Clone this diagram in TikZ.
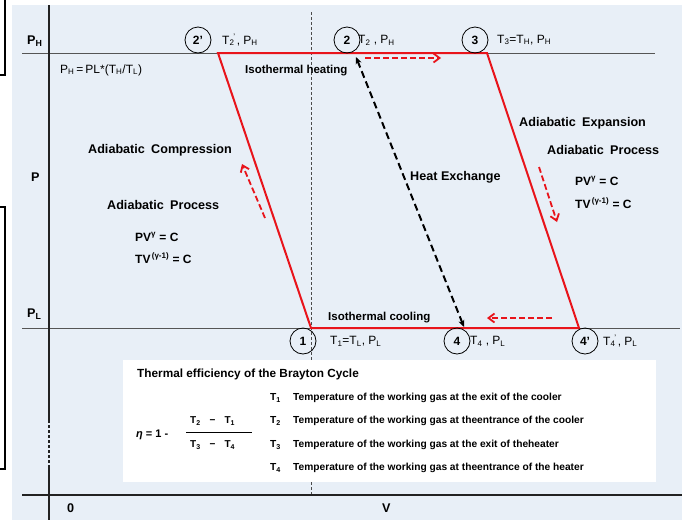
\documentclass[tikz,border=0pt]{standalone}
\usepackage{fontspec}
\setmainfont{Liberation Sans}
\usetikzlibrary{arrows.meta}
\definecolor{bgblue}{HTML}{E8EFF7}
\definecolor{cycred}{HTML}{E8141B}
\definecolor{axgray}{HTML}{555555}
\definecolor{axdark}{HTML}{222222}
\begin{document}
\begin{tikzpicture}[x=1pt,y=-1pt,
  lbl/.style={font=\fontsize{12.6}{14}\selectfont\bfseries, inner sep=0pt, anchor=west},
  lblr/.style={font=\fontsize{12}{14}\selectfont, inner sep=0pt, anchor=west},
  iso/.style={font=\fontsize{11.5}{13}\selectfont\bfseries, inner sep=0pt, anchor=west},
  eqn/.style={font=\fontsize{12}{14}\selectfont\bfseries, inner sep=0pt, anchor=west},
  circ/.style={draw=black, line width=0.8pt, circle, minimum size=26pt, inner sep=0pt, font=\fontsize{12}{14}\selectfont\bfseries},
  boxtitle/.style={font=\fontsize{11.8}{13}\selectfont\bfseries, inner sep=0pt, anchor=west},
  boxtxt/.style={font=\fontsize{10.2}{12}\selectfont\bfseries, inner sep=0pt, anchor=west},
  refline/.style={draw=axgray, line width=1pt},
  cycline/.style={draw=cycred, line width=2pt, line join=miter},
  redarrow/.style={draw=cycred, line width=1.8pt, dash pattern=on 6pt off 3pt, -{Straight Barb[length=6pt,width=9pt]}},
  blkarrow/.style={draw=black, line width=2pt, dash pattern=on 7pt off 4pt, {Stealth[length=7pt,width=6pt]}-{Stealth[length=7pt,width=6pt]}},
  vdash/.style={draw=black!70, line width=0.6pt, dash pattern=on 3pt off 2pt},
]
\useasboundingbox (0,0) rectangle (685,520);
% background
\fill[bgblue] (12,5) rectangle (682,520);
% left bracket marks
\draw[line width=1.5pt] (0,75) -- (5,75) -- (5,0);
\draw[line width=1.5pt] (0,207) -- (5,207) -- (5,469) -- (0,469);
% reference pressure lines
\coordinate (phL) at (22,53);
\coordinate (phR) at (655,53);
\coordinate (plL) at (22,328);
\coordinate (plR) at (680,328);
\draw[refline] (phL) -- (phR);
\draw[refline] (plL) -- (plR);
% vertical dashed line
\coordinate (vdT) at (311,12);
\coordinate (vdB) at (311,495);
\draw[vdash] (vdT) -- (vdB);
% axes
\coordinate (yaT) at (49,5);
\coordinate (yaM1) at (49,420);
\coordinate (yaM2) at (49,467);
\coordinate (yaB) at (49,520);
\draw[axdark, line width=1.5pt] (yaT) -- (yaM1);
\draw[axdark, line width=1.5pt, dash pattern=on 3pt off 2pt] (yaM1) -- (yaM2);
\draw[axdark, line width=1.5pt] (yaM2) -- (yaB);
\coordinate (xaL) at (22,495);
\coordinate (xaR) at (682,495);
\draw[axdark, line width=2.5pt] (xaL) -- (xaR);
% efficiency box
\node[fill=white, minimum width=533pt, minimum height=122pt, anchor=north west, inner sep=0pt] (box) at (123,360) {};
% cycle
\coordinate (p2p) at (218,53);
\coordinate (p3) at (487,53);
\coordinate (p4p) at (579,328);
\coordinate (p1) at (311,328);
\draw[cycline] (p2p) -- (p3) -- (p4p) -- (p1) -- cycle;
% circles
\node[circ] (c2p) at (198,40) {2'};
\node[circ] (c2) at (347,40) {2};
\node[circ] (c3) at (475,40) {3};
\node[circ] (c1) at (303,341) {1};
\node[circ] (c4) at (457,341) {4};
\node[circ] (c4p) at (585,341) {4'};
% point labels
\node[lblr] (t2p) at (222,40) {T\textsubscript{2}\kern-1pt\textsuperscript{'}\kern1pt, P\textsubscript{H}};
\node[lblr] (t2) at (358,40) {T\textsubscript{2} , P\textsubscript{H}};
\node[lblr] (t3) at (497,40) {T\textsubscript{3}=T\textsubscript{H}, P\textsubscript{H}};
\node[lblr] (t1) at (330,341) {T\textsubscript{1}=T\textsubscript{L}, P\textsubscript{L}};
\node[lblr] (t4) at (470,341) {T\textsubscript{4} , P\textsubscript{L}};
\node[lblr] (t4p) at (603,341) {T\textsubscript{4}\kern-1pt\textsuperscript{'}\kern1pt, P\textsubscript{L}};
% axis labels
\node[lbl] (phlab) at (27,41) {P\textsubscript{H}};
\node[lbl] (plab) at (31,177) {P};
\node[lbl] (pllab) at (27,314) {P\textsubscript{L}};
\node[lbl] (zero) at (67,508) {0};
\node[lbl] (vlab) at (382,508) {V};
\node[lblr] (phf) at (60,70) {P\textsubscript{H}\,=\,PL*(T\textsubscript{H}/T\textsubscript{L})};
% process labels
\node[iso] (isoh) at (245,71) {Isothermal heating};
\node[iso] (isoc) at (328,318) {Isothermal cooling};
\node[lbl] (acomp) at (88,150) {Adiabatic\hspace{0.5em}Compression};
\node[lbl] (aprocL) at (107,205) {Adiabatic\hspace{0.5em}Process};
\node[eqn] (pvL) at (135,237) {PV\textsuperscript{γ} = C};
\node[eqn] (tvL) at (135,258) {TV\textsuperscript{\,(γ-1)} = C};
\node[lbl] (aexp) at (519,123) {Adiabatic\hspace{0.5em}Expansion};
\node[lbl] (aprocR) at (547,150) {Adiabatic\hspace{0.5em}Process};
\node[eqn] (pvR) at (575,181) {PV\textsuperscript{γ} = C};
\node[eqn] (tvR) at (575,203) {TV\textsuperscript{\,(γ-1)} = C};
\node[lbl] (hex) at (410,177) {Heat Exchange};
% red process arrows
\coordinate (rtA) at (365,58);
\coordinate (rtB) at (441,58);
\draw[redarrow] (rtA) -- (rtB);
\coordinate (rbA) at (552,318);
\coordinate (rbB) at (487,318);
\draw[redarrow] (rbA) -- (rbB);
\coordinate (rlA) at (265,218);
\coordinate (rlB) at (242,164);
\draw[redarrow] (rlA) -- (rlB);
\coordinate (rrA) at (539,167);
\coordinate (rrB) at (557,222);
\draw[redarrow] (rrA) -- (rrB);
% heat exchange arrow
\coordinate (hxT) at (356,57);
\coordinate (hxB) at (464,327);
\draw[blkarrow] (hxT) -- (hxB);
% box content
\node[boxtitle] (btitle) at (137,374) {Thermal efficiency of the Brayton Cycle};
\node[boxtxt, font=\fontsize{11}{12}\selectfont\bfseries] (eta) at (136,435) {\textit{η} = 1 -};
\node[boxtxt, font=\fontsize{10}{12}\selectfont\bfseries] (num) at (190,421) {T\textsubscript{2}\hspace{0.9em}−\hspace{0.9em}T\textsubscript{1}};
\node[boxtxt, font=\fontsize{10}{12}\selectfont\bfseries] (den) at (190,445) {T\textsubscript{3}\hspace{0.9em}−\hspace{0.9em}T\textsubscript{4}};
\coordinate (flA) at (186,432);
\coordinate (flB) at (252,432);
\draw[line width=0.8pt] (flA) -- (flB);
\node[boxtxt] (k1) at (270,398) {T\textsubscript{1}};
\node[boxtxt] (k2) at (270,421) {T\textsubscript{2}};
\node[boxtxt] (k3) at (270,445) {T\textsubscript{3}};
\node[boxtxt] (k4) at (270,468) {T\textsubscript{4}};
\node[boxtxt] (d1) at (293,398) {Temperature of the working gas at the exit of the cooler};
\node[boxtxt] (d2) at (293,421) {Temperature of the working gas at theentrance of the cooler};
\node[boxtxt] (d3) at (293,445) {Temperature of the working gas at the exit of theheater};
\node[boxtxt] (d4) at (293,468) {Temperature of the working gas at theentrance of the heater};
\end{tikzpicture}
\end{document}
